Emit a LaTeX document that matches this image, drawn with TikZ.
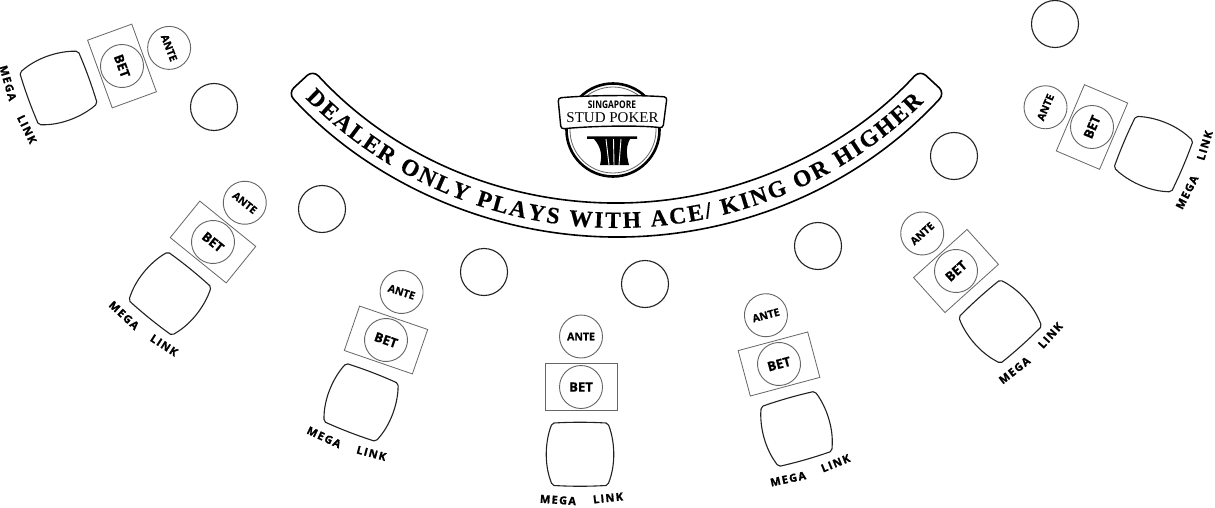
\documentclass[tikz,border=0pt]{standalone}
\usepackage{fontspec}
\usetikzlibrary{decorations.text}
\setmainfont[BoldFeatures={FakeBold=0.4}]{Liberation Serif}
\newfontfamily\chipfont[BoldFeatures={FakeBold=0.5}]{Open Sans}
\newfontfamily\megafont[LetterSpace=12,BoldFeatures={FakeBold=1.2}]{Open Sans}
\newfontfamily\logofont[FakeStretch=0.8]{Open Sans}
\definecolor{inkgray}{HTML}{666666}
\definecolor{ink}{HTML}{222222}
\tikzset{
  chip/.style={circle,draw=inkgray,line width=.9pt,minimum size=43pt,inner sep=0pt,font=\chipfont\bfseries},
  plainchip/.style={circle,draw=ink,line width=1.1pt,minimum size=47pt,inner sep=0pt},
  betbox/.style={rectangle,draw=inkgray,line width=.8pt,minimum width=72pt,minimum height=47pt,inner sep=0pt},
  megatext/.style={font=\megafont\bfseries\fontsize{11}{12}\selectfont,inner sep=0pt},
  cardbox/.style={draw=ink,line width=1.1pt,fill=white}
}
\newcommand\seatgroup[6]{%
  % #1 id, #2 x, #3 y, #4 rect angle, #5 box angle, #6 ante angle (clockwise on screen)
  \begin{scope}[shift={(#2,-#3)}]
    \node[betbox,rotate=-#4] (rect#1) at (0,0) {};
    \node[chip,rotate=-#4,font=\chipfont\bfseries\fontsize{13}{15}\selectfont] (bet#1) at (0,0) {BET};
    \node[chip,rotate=-#6,font=\chipfont\bfseries\fontsize{10.5}{12}\selectfont] (ante#1) at ({90-#6}:50.5) {ANTE};
    \begin{scope}[rotate=-#5]
      \draw[cardbox] (-27,-36) .. controls (-10,-35) and (8,-35) .. (25,-36)
        .. controls (27,-36.5) and (28.5,-39) .. (29,-42)
        .. controls (34,-58) and (34,-77) .. (29,-92)
        .. controls (28.5,-95) and (27,-98) .. (25,-98.5)
        .. controls (8,-99.5) and (-10,-99.5) .. (-27,-98.5)
        .. controls (-29,-98) and (-30.5,-95) .. (-31,-92)
        .. controls (-36,-77) and (-36,-58) .. (-31,-42)
        .. controls (-30.5,-39) and (-29,-36.5) .. (-27,-36) -- cycle;
      \node[megatext,rotate=-#5-4] (mega#1) at (-23,-113) {MEGA};
      \node[megatext,rotate=-#5+6] (link#1) at (27,-111) {LINK};
    \end{scope}
  \end{scope}
}
\begin{document}
\begin{tikzpicture}[x=1pt,y=1pt]
\useasboundingbox (0,0) rectangle (1215,-508);
\fill[white] (0,0) rectangle (1215,-508);
% free circles
\node[plainchip] (c1) at (214,-107) {};
\node[plainchip] (c2) at (322,-209) {};
\node[plainchip] (c3) at (484,-272) {};
\node[plainchip] (c4) at (645,-284) {};
\node[plainchip] (c5) at (818,-246) {};
\node[plainchip] (c6) at (954,-156) {};
\node[plainchip] (c7) at (1055,-24) {};
% seats
\seatgroup{a}{122}{66}{70}{70}{69}
\seatgroup{b}{213}{242}{39}{39}{39}
\seatgroup{c}{386}{340}{19}{21}{18}
\seatgroup{d}{581}{387}{0}{0}{0}
\seatgroup{e}{779}{364}{-15}{-16}{-15}
\seatgroup{f}{956}{271}{-42}{-42}{-42}
\seatgroup{g}{1092}{127}{-67}{-67}{-67}
% banner
\begin{scope}[shift={(616.5,210)}]
  \draw[line width=1.6pt,rounded corners=8pt,draw=black]
    (222.7:413) arc[start angle=222.7,end angle=317.3,radius=413]
    -- (317.3:447) arc[start angle=317.3,end angle=222.7,radius=447] -- cycle;
  \path[decorate,decoration={text along path,text align={fit to path},
      text={|\bfseries\fontsize{23.5}{26}\selectfont|DEALER ONLY PLAYS WITH ACE/ KING OR HIGHER}}]
    (224.7:438) arc[start angle=224.7,end angle=314.5,radius=438];
\end{scope}
% logo
\draw[line width=2.6pt,draw=black] (613,-130) circle[radius=46.5];
\draw[line width=.8pt,draw=inkgray] (613,-130) circle[radius=43];
\draw[line width=1.4pt,fill=white,rounded corners=3pt,draw=black]
  (558,-98) .. controls (590,-95) and (640,-95) .. (667,-97)
  -- (663,-128) .. controls (640,-125) and (590,-126) .. (561,-129) -- cycle;
\node[inner sep=0pt,font=\logofont\bfseries\fontsize{10.5}{11}\selectfont] (logoa) at (612,-105) {SINGAPORE};
\node[inner sep=0pt,font=\fontsize{15}{16}\selectfont] (logob) at (612.5,-118) {STUD POKER};
\fill[black] (587,-136.5) -- (637,-136.5) -- (637,-139) -- (630,-139)
  .. controls (625,-148) and (627,-157) .. (629,-165) -- (600,-165)
  .. controls (602,-157) and (602,-148) .. (594,-139) -- (587,-139) -- cycle;
\draw[white,line width=.9pt] (606,-139) -- (609,-165) (613.5,-139) -- (614,-165) (621,-139) -- (619,-165);
\end{tikzpicture}
\end{document}
